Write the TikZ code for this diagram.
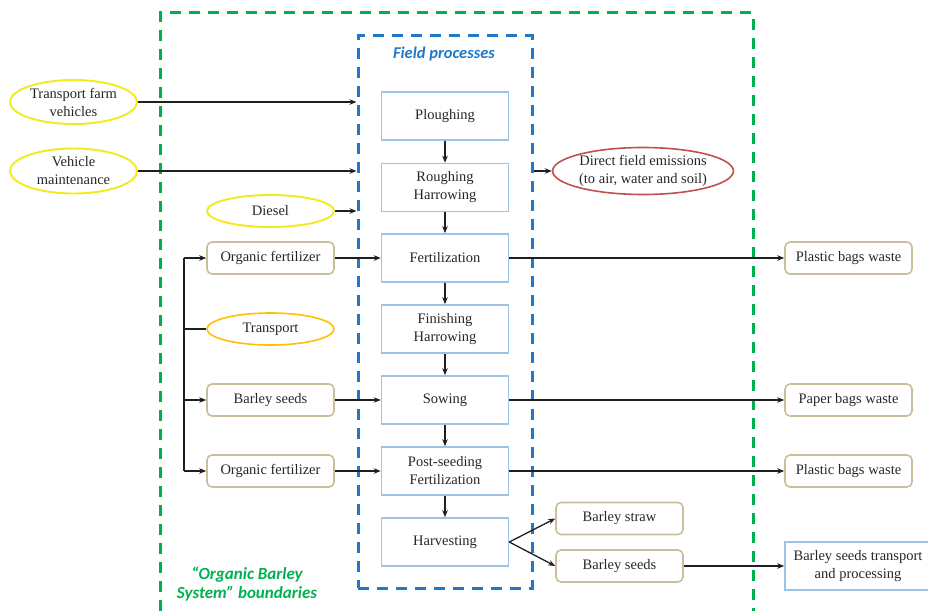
\documentclass[tikz,border=0pt]{standalone}
\usepackage{fontspec}
\setmainfont{Liberation Serif}
\newfontfamily\labelfont{Carlito}
\usetikzlibrary{shapes.geometric,arrows.meta}

\definecolor{txt}{HTML}{262626}
\definecolor{procblue}{HTML}{9DC3E6}
\definecolor{tan}{HTML}{C9BF99}
\definecolor{yel}{HTML}{F2EA1A}
\definecolor{orng}{HTML}{FFC000}
\definecolor{redl}{HTML}{C0504D}
\definecolor{sysgreen}{HTML}{00B050}
\definecolor{fieldblue}{HTML}{1F78C8}

\tikzset{
  every node/.style={text=txt, font=\fontsize{14.5}{18}\selectfont, align=center, inner sep=0pt},
  proc/.style={draw=procblue, line width=1.6pt, minimum width=127pt, minimum height=48pt},
  item/.style={draw=tan, line width=1.6pt, rounded corners=5pt, minimum width=127pt, minimum height=32pt},
  oval/.style={ellipse, line width=1.9pt, minimum width=127pt},
  arr/.style={draw=black!88, line width=1.3pt, -{Stealth[length=7pt,width=5.5pt]}},
  link/.style={draw=black!88, line width=1.3pt},
  sysbound/.style={draw=sysgreen, line width=3pt, dash pattern=on 11pt off 8pt},
  fieldbound/.style={draw=fieldblue, line width=3pt, dash pattern=on 11pt off 8pt},
}

\begin{document}
\begin{tikzpicture}[x=1pt,y=-1pt]
\useasboundingbox (0,0) rectangle (928,610);
\clip (0,0) rectangle (928,610);

% system boundary and field-process boundary
\node[sysbound, minimum width=593pt, minimum height=640pt] (sys) at (456.5,333) {};
\node[fieldbound, minimum width=174pt, minimum height=552pt] (field) at (445,312) {};
\node[font=\labelfont\bfseries\itshape\fontsize{16.5}{19}\selectfont, text=fieldblue] (fieldlbl) at (444,54) {Field processes};
\node[font=\labelfont\bfseries\itshape\fontsize{17}{19}\selectfont, text=sysgreen] (syslbl) at (247,584) {“Organic Barley\\System” boundaries};

% field processes
\node[proc] (plo) at (445,116) {Ploughing};
\node[proc] (rou) at (445,187.5) {Roughing\\Harrowing};
\node[proc] (fer) at (445,258) {Fertilization};
\node[proc] (fin) at (445,329) {Finishing\\Harrowing};
\node[proc] (sow) at (445,400) {Sowing};
\node[proc] (pos) at (445,471) {Post-seeding\\Fertilization};
\node[proc] (har) at (445,542) {Harvesting};

\foreach \a/\b in {plo/rou,rou/fer,fer/fin,fin/sow,sow/pos,pos/har}
  \draw[arr] (\a.south) -- (\b.north);

% inputs to the field
\node[oval, draw=yel, minimum height=44pt] (tfv) at (73.5,102) {Transport farm\\vehicles};
\node[oval, draw=yel, minimum height=45pt] (vm) at (73.5,171) {Vehicle\\maintenance};
\node[oval, draw=yel, minimum height=32pt] (dsl) at (270.5,211) {Diesel};

\draw[arr] (tfv.east) -- (tfv.east -| field.west);
\draw[arr] (vm.east) -- (vm.east -| field.west);
\draw[arr] (dsl.east) -- (dsl.east -| field.west);

\node[item] (of1) at (270.5,258) {Organic fertilizer};
\node[oval, draw=orng, line width=1.6pt, minimum height=32pt] (trp) at (270.5,329) {Transport};
\node[item] (bs) at (270.5,400) {Barley seeds};
\node[item] (of2) at (270.5,471) {Organic fertilizer};

% transport feeding the purchased inputs
\coordinate (busT) at (184,258);
\coordinate (busB) at (184,471);
\draw[link] (busT) -- (busB);
\draw[link] (trp.west) -- (trp.west -| busT);
\draw[arr] (busT) -- (of1.west);
\draw[arr] (busT |- bs.west) -- (bs.west);
\draw[arr] (busB) -- (of2.west);

\draw[arr] (of1.east) -- (fer.west);
\draw[arr] (bs.east) -- (sow.west);
\draw[arr] (of2.east) -- (pos.west);

% outputs
\node[oval, draw=redl, line width=1.6pt, minimum width=172pt, minimum height=47pt] (em) at (643,171) {Direct field emissions\\(to air, water and soil)};
\draw[arr] (field.east |- em.west) -- (em.west);

\node[item] (pw1) at (848.5,258) {Plastic bags waste};
\node[item] (paw) at (848.5,400) {Paper bags waste};
\node[item] (pw2) at (848.5,471) {Plastic bags waste};
\draw[arr] (fer.east) -- (pw1.west);
\draw[arr] (sow.east) -- (paw.west);
\draw[arr] (pos.east) -- (pw2.west);

\node[item] (str) at (619.5,518.5) {Barley straw};
\node[item] (bso) at (619.5,566) {Barley seeds};
\draw[arr] (har.east) -- (str.west);
\draw[arr] (har.east) -- (bso.west);

\node[proc, minimum width=146pt] (btp) at (858,566) {Barley seeds transport\\and processing};
\draw[arr] (bso.east) -- (btp.west);
\end{tikzpicture}
\end{document}
